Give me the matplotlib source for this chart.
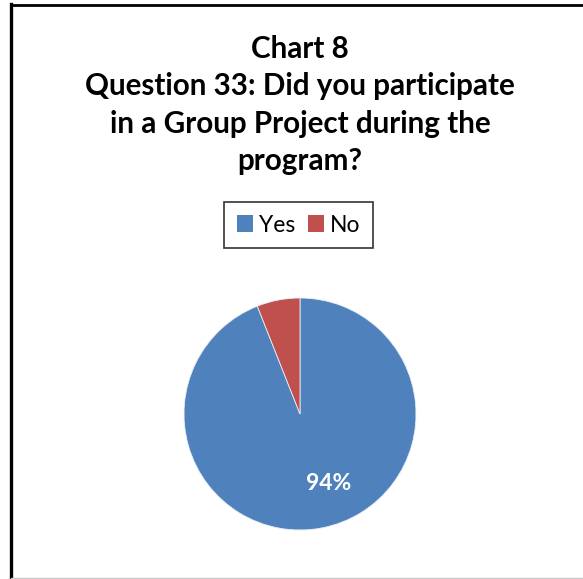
import matplotlib
matplotlib.use('Agg')
import matplotlib.pyplot as plt
from matplotlib.lines import Line2D
from matplotlib.patches import Patch

labels = ['Yes', 'No']
values = [94, 6]
colors = ['#4F81BD', '#C0504D']
title = 'Chart 8\nQuestion 33: Did you participate\nin a Group Project during the\nprogram?'

W, H = 583, 579
fig = plt.figure(figsize=(W / 100, H / 100), dpi=100)
fig.patch.set_facecolor('white')

# chart frame (right side runs off the picture)
fig.add_artist(Line2D([10.5 / W, 10.5 / W], [1 - 4 / H, 1 - 577 / H], color='black', lw=2.4,
                      transform=fig.transFigure))
fig.add_artist(Line2D([10.5 / W, 1.0], [1 - 4.5 / H, 1 - 4.5 / H], color='black', lw=2.0,
                      transform=fig.transFigure))
fig.add_artist(Line2D([10.5 / W, 1.0], [1 - 577.5 / H, 1 - 577.5 / H], color='#c8c8c8', lw=1.0,
                      transform=fig.transFigure))

fig.text(300 / W, 1 - 105 / H, title, ha='center', va='center', fontsize=21.3,
         fontweight='bold', family='Lato', linespacing=1.4)

# pie: center (300, 414), radius 116 px
cx, cy, r = 300, 414, 116
ax = fig.add_axes([(cx - r) / W, 1 - (cy + r) / H, 2 * r / W, 2 * r / H])
wedges, _, autotexts = ax.pie(values, colors=colors, startangle=90, counterclock=False,
                              autopct=lambda p: f'{p:.0f}%' if p > 50 else '',
                              pctdistance=0.62,
                              wedgeprops=dict(edgecolor='#e8eef6', linewidth=0.6))
for t in autotexts:
    t.set_color('white')
    t.set_fontweight('bold')
    t.set_fontsize(16.5)
    t.set_family('Lato')
# Excel's best-fit label spot
autotexts[0].set_position((0.25, -0.6))
ax.set_aspect('equal')
ax.set_xlim(-1, 1)
ax.set_ylim(-1, 1)

handles = [Patch(facecolor=c, edgecolor='none', label=l) for c, l in zip(colors, labels)]
leg = fig.legend(handles=handles, loc='center', bbox_to_anchor=(298.5 / W, 1 - 225 / H),
                 ncol=2, frameon=True, fancybox=False, edgecolor='black',
                 prop={'family': 'Lato', 'size': 16.5}, handlelength=0.7, handleheight=0.7,
                 handletextpad=0.25, columnspacing=0.55, borderpad=0.55, borderaxespad=0)
leg.get_frame().set_linewidth(1.2)

fig.savefig('out.png', dpi=100)
